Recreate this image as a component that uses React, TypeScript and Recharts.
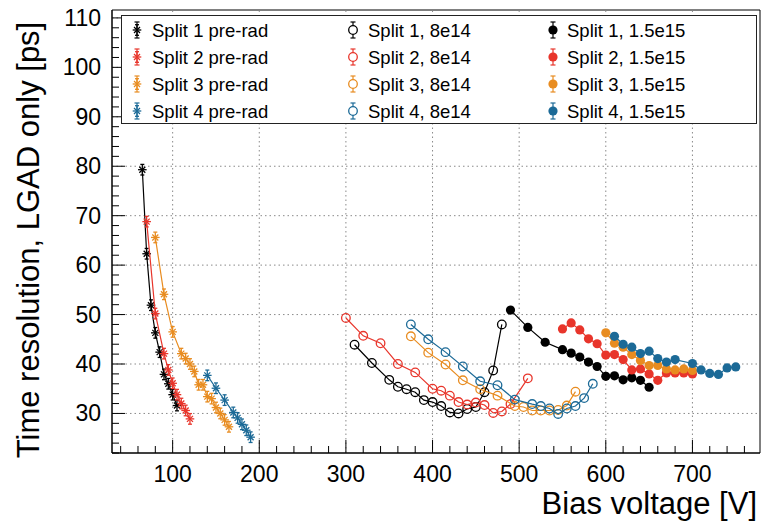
import { ReferenceArea, ReferenceLine, Scatter, ScatterChart, XAxis, YAxis } from "recharts";

const BLACK = "#000000";
const RED = "#e8352b";
const ORANGE = "#e88c20";
const BLUE = "#1c6a97";
const COLORS = [BLACK, RED, ORANGE, BLUE];

// pre-rad, bias voltage [V] and time resolution [ps]
const preRadV1 = [65, 70, 75, 80, 85, 90, 95, 100, 105];
const preRadT1 = [79.3, 62.3, 51.9, 46.3, 42.4, 37.9, 36.0, 33.8, 31.6];
const preRadV2 = [70, 80, 90, 95, 100, 105, 110, 115, 120];
const preRadT2 = [68.8, 50.2, 42.1, 38.8, 36.1, 33.8, 32.0, 30.6, 28.9];
const preRadV3 = [80, 90, 100, 110, 115, 120, 125, 130, 135, 140, 145, 150, 155, 160, 165];
const preRadT3 = [65.6, 54.1, 46.5, 42.1, 41.1, 40.0, 38.5, 35.8, 35.8, 33.4, 33.0, 31.2, 30.0, 28.7, 27.3];
const preRadV4 = [140, 150, 160, 170, 175, 180, 185, 190];
const preRadT4 = [37.7, 35.1, 32.7, 30.2, 29.1, 27.8, 26.6, 25.2];

// 8e14
const midV1 = [310, 330, 350, 360, 370, 380, 390, 400, 410, 420, 430, 440, 450, 460, 470, 480];
const midT1 = [43.9, 40.2, 36.8, 35.4, 34.9, 34.3, 32.7, 32.3, 31.5, 30.2, 30.0, 30.9, 31.3, 34.3, 38.7, 48.0];
const midV2 = [300, 320, 340, 360, 380, 400, 410, 420, 430, 440, 450, 460, 470, 480, 490, 510];
const midT2 = [49.3, 45.7, 44.2, 40.0, 38.3, 35.0, 34.6, 33.6, 32.3, 31.8, 32.2, 31.7, 30.1, 30.4, 31.9, 37.1];
const midV3 = [375, 395, 415, 435, 455, 475, 495, 505, 515, 525, 535, 545, 555, 565];
const midT3 = [45.6, 42.3, 39.9, 36.7, 34.9, 33.6, 31.5, 31.3, 30.6, 30.6, 30.6, 30.7, 31.6, 34.4];
const midV4 = [375, 395, 415, 435, 455, 475, 495, 515, 525, 535, 545, 555, 565, 575, 585];
const midT4 = [48.0, 45.0, 42.4, 39.5, 36.5, 35.7, 32.8, 31.9, 31.5, 31.0, 29.9, 31.0, 31.5, 33.1, 36.0];

// 1.5e15
const highV1 = [490, 510, 530, 550, 560, 570, 580, 590, 600, 610, 620, 630, 640, 650];
const highT1 = [50.9, 47.4, 44.4, 42.9, 42.2, 41.4, 40.4, 39.5, 37.5, 37.6, 36.8, 37.2, 36.7, 35.3];
const highV2 = [550, 560, 570, 580, 590, 600, 610, 620, 630, 640, 650, 660, 670, 680, 690, 700];
const highT2 = [47.1, 48.3, 46.9, 45.1, 44.1, 41.8, 41.9, 40.9, 38.8, 39.0, 38.0, 36.7, 38.2, 38.2, 38.2, 38.0];
const highV3 = [600, 610, 620, 630, 640, 650, 660, 670, 680, 690, 700];
const highT3 = [46.3, 44.2, 43.4, 41.9, 40.7, 39.7, 39.7, 39.0, 38.8, 39.0, 38.7];
const highV4 = [610, 620, 630, 640, 650, 660, 670, 680, 700, 710, 720, 730, 740, 750];
const highT4 = [45.6, 44.0, 43.4, 42.1, 42.6, 41.1, 40.4, 40.9, 40.1, 38.8, 38.1, 37.9, 39.2, 39.4];

const preRadNames = ["Split 1 pre-rad", "Split 2 pre-rad", "Split 3 pre-rad", "Split 4 pre-rad"];
const midNames = ["Split 1, 8e14", "Split 2, 8e14", "Split 3, 8e14", "Split 4, 8e14"];
const highNames = ["Split 1, 1.5e15", "Split 2, 1.5e15", "Split 3, 1.5e15", "Split 4, 1.5e15"];

const xMajorTicks = [100, 200, 300, 400, 500, 600, 700];
const yMajorTicks = [30, 40, 50, 60, 70, 80, 90, 100, 110];
const X_DOMAIN: [number, number] = [30, 778];
const Y_DOMAIN: [number, number] = [22, 111.6];

const xTicks: number[] = [];
for (let v = 40; v <= 760; v += 20) xTicks.push(v);
const yTicks: number[] = [];
for (let v = 22; v <= 110; v += 2) yTicks.push(v);

const FONT = "'Liberation Sans', Arial, Helvetica, sans-serif";
const PLOT = { left: 112, top: 10, right: 760, bottom: 453 };

function zip(v: number[], t: number[]) {
  return v.map((x, i) => ({ x, y: t[i] }));
}

type Kind = "star" | "open" | "dot";

function Marker({ cx, cy, color, kind, bar = 0 }: { cx: number; cy: number; color: string; kind: Kind; bar?: number }) {
  const r = 4.3;
  return (
    <g>
      {bar > 0 && (
        <g stroke={color} strokeWidth={1.2}>
          <line x1={cx} x2={cx} y1={cy - bar} y2={cy + bar} />
          <line x1={cx - 2.5} x2={cx + 2.5} y1={cy - bar} y2={cy - bar} />
          <line x1={cx - 2.5} x2={cx + 2.5} y1={cy + bar} y2={cy + bar} />
        </g>
      )}
      {kind === "star" && (
        <g stroke={color} strokeWidth={1.3}>
          <line x1={cx - r} x2={cx + r} y1={cy} y2={cy} />
          <line x1={cx} x2={cx} y1={cy - r - 1} y2={cy + r + 1} />
          <line x1={cx - 3} x2={cx + 3} y1={cy - 3} y2={cy + 3} />
          <line x1={cx - 3} x2={cx + 3} y1={cy + 3} y2={cy - 3} />
          <line x1={cx - 2} x2={cx + 2} y1={cy - r - 1} y2={cy - r - 1} />
          <line x1={cx - 2} x2={cx + 2} y1={cy + r + 1} y2={cy + r + 1} />
        </g>
      )}
      {kind === "open" && <circle cx={cx} cy={cy} r={r} fill={bar > 0 ? "#fff" : "none"} stroke={color} strokeWidth={1.3} />}
      {kind === "dot" && <circle cx={cx} cy={cy} r={r + 0.3} fill={color} />}
    </g>
  );
}

function XTick(props: any) {
  const { x, payload } = props;
  const major = xMajorTicks.includes(payload.value);
  return (
    <g>
      <line x1={x} x2={x} y1={PLOT.bottom} y2={PLOT.bottom - (major ? 13 : 7)} stroke="#000" strokeWidth={1} />
      {major && (
        <text x={x} y={PLOT.bottom + 29} textAnchor="middle" fontSize={23} fontFamily={FONT} fill="#000">
          {payload.value}
        </text>
      )}
    </g>
  );
}

function YTick(props: any) {
  const { y, payload } = props;
  const major = yMajorTicks.includes(payload.value);
  return (
    <g>
      <line x1={PLOT.left} x2={PLOT.left + (major ? 13 : 7)} y1={y} y2={y} stroke="#000" strokeWidth={1} />
      {major && (
        <text x={PLOT.left - 11} y={y + 8} textAnchor="end" fontSize={23} fontFamily={FONT} fill="#000">
          {payload.value}
        </text>
      )}
    </g>
  );
}

const groups: { kind: Kind; series: { x: number; y: number }[][]; names: string[] }[] = [
  { kind: "star", names: preRadNames, series: [zip(preRadV1, preRadT1), zip(preRadV2, preRadT2), zip(preRadV3, preRadT3), zip(preRadV4, preRadT4)] },
  { kind: "open", names: midNames, series: [zip(midV1, midT1), zip(midV2, midT2), zip(midV3, midT3), zip(midV4, midT4)] },
  { kind: "dot", names: highNames, series: [zip(highV1, highT1), zip(highV2, highT2), zip(highV3, highT3), zip(highV4, highT4)] },
];

const legendCols = [
  { markerX: 137, textX: 152 },
  { markerX: 353, textX: 368 },
  { markerX: 553, textX: 567 },
];
const legendRows = [30, 57, 84, 111];

export default function App() {
  return (
    <div style={{ position: "relative", width: 763, height: 525, fontFamily: FONT, background: "#fff" }}>
      <style>{"body{margin:0}"}</style>
      <ScatterChart width={763} height={525} margin={{ top: 10, right: 3, bottom: 12, left: 0 }}>
        <XAxis
          type="number"
          dataKey="x"
          domain={X_DOMAIN}
          ticks={xTicks}
          interval={0}
          allowDataOverflow
          height={60}
          tick={XTick}
          tickLine={false}
          axisLine={{ stroke: "#000", strokeWidth: 1 }}
        />
        <YAxis
          type="number"
          dataKey="y"
          domain={Y_DOMAIN}
          ticks={yTicks}
          interval={0}
          allowDataOverflow
          width={112}
          tick={YTick}
          tickLine={false}
          axisLine={{ stroke: "#000", strokeWidth: 1 }}
        />
        {xMajorTicks.map((v) => (
          <ReferenceLine key={"gx" + v} x={v} stroke="#8a8a8a" strokeDasharray="1.5 3" strokeWidth={1} />
        ))}
        {yMajorTicks.map((v) => (
          <ReferenceLine key={"gy" + v} y={v} stroke="#8a8a8a" strokeDasharray="1.5 3" strokeWidth={1} />
        ))}
        <ReferenceArea x1={X_DOMAIN[0]} x2={X_DOMAIN[1]} y1={Y_DOMAIN[0]} y2={Y_DOMAIN[1]} fill="none" fillOpacity={0} stroke="#000" strokeWidth={1} />
        {groups.flatMap((g) =>
          g.series.map((data, si) => (
            <Scatter
              key={g.names[si]}
              name={g.names[si]}
              data={data}
              isAnimationActive={false}
              line={{ stroke: COLORS[si], strokeWidth: 1.2 }}
              shape={(p: any) => <Marker cx={p.cx} cy={p.cy} color={COLORS[si]} kind={g.kind} />}
            />
          ))
        )}
      </ScatterChart>

      {/* legend box */}
      <div
        style={{
          position: "absolute",
          left: 121,
          top: 15,
          width: 636,
          height: 109,
          border: "1.5px solid #222",
          background: "#fff",
          boxSizing: "border-box",
        }}
      />
      <svg style={{ position: "absolute", left: 0, top: 0 }} width={763} height={130}>
        {groups.map((g, gi) =>
          g.names.map((name, si) => (
            <g key={name}>
              <Marker cx={legendCols[gi].markerX} cy={legendRows[si]} color={COLORS[si]} kind={g.kind} bar={8} />
              <text x={legendCols[gi].textX} y={legendRows[si] + 6.5} fontSize={18.5} fontFamily={FONT} fill="#000">
                {name}
              </text>
            </g>
          ))
        )}
      </svg>

      <div
        style={{
          position: "absolute",
          left: 28,
          top: 240,
          transform: "translate(-50%, -50%) rotate(-90deg)",
          whiteSpace: "nowrap",
          fontSize: 31,
          lineHeight: 1,
        }}
      >
        Time resolution, LGAD only [ps]
      </div>
      <div
        style={{
          position: "absolute",
          right: 6,
          top: 488,
          whiteSpace: "nowrap",
          fontSize: 31,
          lineHeight: 1,
        }}
      >
        Bias voltage [V]
      </div>
    </div>
  );
}
